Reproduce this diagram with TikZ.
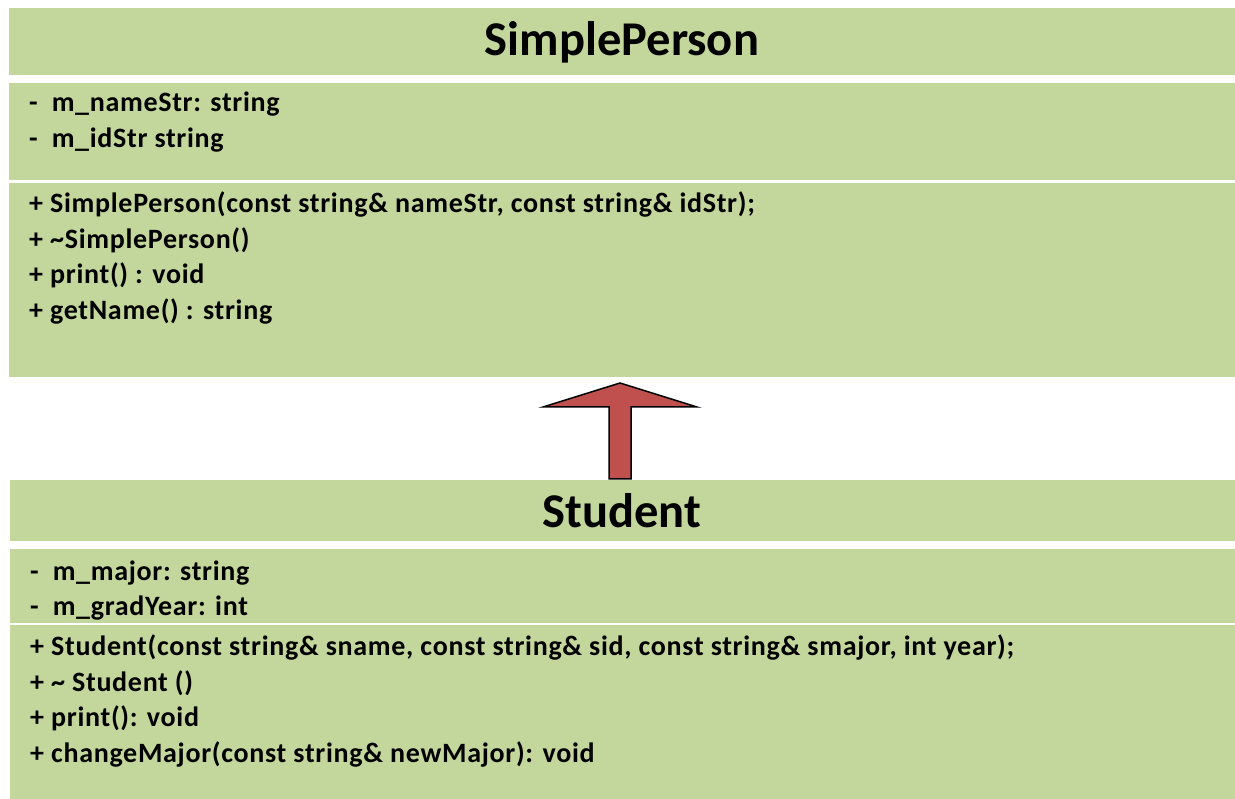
\documentclass[tikz,border=0pt]{standalone}
\usepackage{fontspec}
\setmainfont{Carlito}
\newfontfamily\memberfont[LetterSpace=2.5]{Carlito}
\definecolor{boxgreen}{HTML}{C3D69B}
\definecolor{arrowred}{HTML}{C0504D}
\begin{document}
\begin{tikzpicture}[x=1pt,y=-1pt,
  panel/.style={fill=boxgreen,draw=none},
  title/.style={font=\fontsize{48.5}{50}\selectfont\bfseries,anchor=base,inner sep=0pt},
  member/.style={font=\memberfont\fontsize{28}{30}\selectfont\bfseries,anchor=base west,inner sep=0pt}]
\useasboundingbox (0,0) rectangle (1235,799);
% SimplePerson
\fill[panel] (9,8) rectangle (1235,75);
\fill[panel] (9,83) rectangle (1235,180);
\fill[panel] (9,183) rectangle (1235,377);
\node[title] (sp) at (622,56) {SimplePerson};
\node[member] (sa1) at (29,112) {-\hspace{0.5em}m\_nameStr: string};
\node[member] (sa2) at (29,148) {-\hspace{0.5em}m\_idStr string};
\node[member] (sm1) at (29,213) {+ SimplePerson(const string\& nameStr, const string\& idStr);};
\node[member] (sm2) at (29,249) {+ \textasciitilde SimplePerson()};
\node[member] (sm3) at (29,284) {+ print() : void};
\node[member] (sm4) at (29,320) {+ getName() : string};
% Student
\fill[panel] (10,480) rectangle (1235,541);
\fill[panel] (10,549) rectangle (1235,623);
\fill[panel] (10,625) rectangle (1235,799);
\node[title] (st) at (622,528) {Student};
\node[member] (ta1) at (30,580) {-\hspace{0.5em}m\_major: string};
\node[member] (ta2) at (30,615) {-\hspace{0.5em}m\_gradYear: int};
\node[member] (tm1) at (30,655) {+ Student(const string\& sname, const string\& sid, const string\& smajor, int year);};
\node[member] (tm2) at (30,691) {+ \textasciitilde\ Student ()};
\node[member] (tm3) at (30,726) {+ print(): void};
\node[member] (tm4) at (30,762) {+ changeMajor(const string\& newMajor): void};
% inheritance arrow
\coordinate (tip) at (620,383);
\filldraw[fill=arrowred,draw=black,line width=1.5pt,line join=miter]
  (tip) -- (697,407) -- (631,407) -- (631,479) -- (609,479) -- (609,407) -- (543,407) -- cycle;
\end{tikzpicture}
\end{document}
